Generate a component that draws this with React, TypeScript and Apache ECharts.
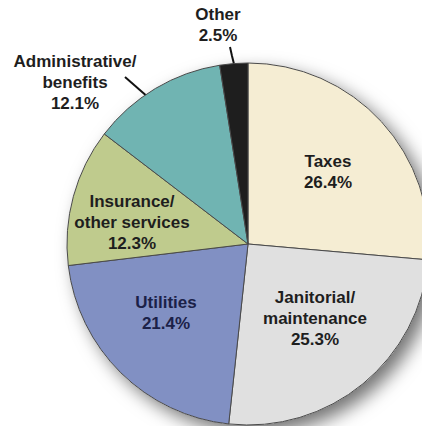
import React, { useEffect, useRef } from "react";
import * as echarts from "echarts";

const categories = [
  "Taxes",
  "Janitorial/\nmaintenance",
  "Utilities",
  "Insurance/\nother services",
  "Administrative/\nbenefits",
  "Other",
];
const values = [26.4, 25.3, 21.4, 12.3, 12.1, 2.5];
const sliceColors = ["#f5edd3", "#e0e0e0", "#8190c3", "#bfcb8d", "#70b4b2", "#1e1e1e"];
const labelColors = ["#1e1e1e", "#1e1e1e", "#1b2148", "#1e1e1e", "#1e1e1e", "#1e1e1e"];
const outsideLabels = [false, false, false, false, true, true];
// label block centres (px) and leader lines
const labelPos: [number, number][] = [
  [328, 172],
  [315, 318],
  [166, 313],
  [132, 222],
  [75, 82],
  [218, 25],
];
const leaderLines: ([number, number][] | null)[] = [
  null,
  null,
  null,
  null,
  [[125, 77], [141, 91], [157, 105]],
  [[230, 47], [232, 56], [235, 68]],
];

export default function App() {
  const ref = useRef<HTMLDivElement>(null);
  useEffect(() => {
    if (!ref.current) return;
    const chart = echarts.init(ref.current, null, { renderer: "svg" });
    const total = values.reduce((a, b) => a + b, 0);
    chart.setOption({
      animation: false,
      backgroundColor: "#ffffff",
      series: [
        {
          type: "pie",
          silent: true,
          center: [248, 244],
          radius: [0, 181],
          label: { show: false },
          labelLine: { show: false },
          itemStyle: {
            color: "#ffffff",
            shadowBlur: 18,
            shadowOffsetX: 8,
            shadowOffsetY: 8,
            shadowColor: "rgba(0,0,0,0.55)",
          },
          data: [{ value: total, name: "shadow" }],
          z: 1,
        },
        {
          type: "pie",
          center: [248, 244],
          radius: [0, 181],
          startAngle: 90,
          clockwise: true,
          z: 2,
          itemStyle: { borderColor: "#4a4a4a", borderWidth: 1 },
          data: categories.map((name, i) => ({
            name,
            value: values[i],
            itemStyle: { color: sliceColors[i] },
            label: {
              position: outsideLabels[i] ? "outside" : "inside",
              color: labelColors[i],
            },
            labelLine: {
              show: outsideLabels[i],
              lineStyle: { color: "#111111", width: 2 },
            },
          })),
          label: {
            show: true,
            formatter: (p: any) => `${p.name}\n${p.value.toFixed(1)}%`,
            fontFamily: "Liberation Sans, Arial, sans-serif",
            fontWeight: "bold",
            fontSize: 17,
            lineHeight: 21,
            align: "center",
            overflow: "none",
            alignTo: "none",
          },
          labelLayout: (params: any) => {
            const i = params.dataIndex;
            const out: any = {
              x: labelPos[i][0],
              y: labelPos[i][1],
              align: "center",
              verticalAlign: "middle",
            };
            if (leaderLines[i]) out.labelLinePoints = leaderLines[i];
            return out;
          },
        },
      ],
    });
    return () => chart.dispose();
  }, []);
  return (
    <div
      ref={ref}
      style={{ position: "absolute", left: 0, top: 0, width: 422, height: 426 }}
    />
  );
}
